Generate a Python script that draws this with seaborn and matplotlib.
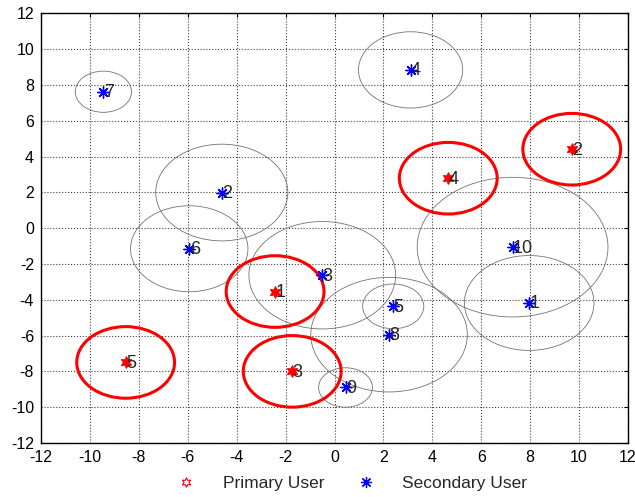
import numpy as np
import pandas as pd
import matplotlib
matplotlib.use("Agg")
import matplotlib.pyplot as plt
import seaborn as sns
from matplotlib.patches import Circle
from matplotlib.lines import Line2D

# primary users (red) - position and protection radius
pu_id = [1, 2, 3, 4, 5]
pu_x = [-2.43, 9.70, -1.73, 4.65, -8.54]
pu_y = [-3.54, 4.41, -8.00, 2.79, -7.50]
pu_r = [2.0, 2.0, 2.0, 2.0, 2.0]

# secondary users (blue) - position and transmission radius
su_id = [1, 2, 3, 4, 5, 6, 7, 8, 9, 10]
su_x = [7.96, -4.61, -0.50, 3.11, 2.40, -5.94, -9.45, 2.23, 0.45, 7.28]
su_y = [-4.18, 1.99, -2.63, 8.84, -4.37, -1.15, 7.62, -5.95, -8.90, -1.06]
su_r = [2.65, 2.70, 3.00, 2.13, 1.25, 2.40, 1.15, 3.20, 1.10, 3.90]

ticks = list(range(-12, 13, 2))

pu = pd.DataFrame({'id': pu_id, 'x': pu_x, 'y': pu_y, 'r': pu_r})
su = pd.DataFrame({'id': su_id, 'x': su_x, 'y': su_y, 'r': su_r})

sns.set_style("white")
plt.rcParams['font.family'] = ['Liberation Sans', 'DejaVu Sans']
plt.rcParams['axes.unicode_minus'] = False

fig = plt.figure(figsize=(6.35, 4.97), dpi=100)
ax = fig.add_axes([0.0646, 0.1087, 0.9244, 0.8645])

hexagram = (6, 1, 0)
asterisk = (8, 2, 0)

# coverage circles
for _, row in su.iterrows():
    ax.add_patch(Circle((row.x, row.y), row.r, fill=False, edgecolor='0.45', linewidth=0.6, zorder=2))
for _, row in pu.iterrows():
    ax.add_patch(Circle((row.x, row.y), row.r, fill=False, edgecolor='red', linewidth=2.2, zorder=3))

sns.scatterplot(data=su, x='x', y='y', marker=asterisk, color='blue', s=65, linewidth=1.0, ax=ax, zorder=4, legend=False)
sns.scatterplot(data=pu, x='x', y='y', marker=hexagram, color='red', edgecolor='red', s=65, linewidth=1.0, ax=ax, zorder=4, legend=False)

for _, row in su.iterrows():
    ax.text(row.x + 0.02, row.y - 0.05, str(int(row.id)), fontsize=13, ha='left', va='center', zorder=5)
for _, row in pu.iterrows():
    ax.text(row.x + 0.02, row.y - 0.05, str(int(row.id)), fontsize=13, ha='left', va='center', zorder=5)

ax.set_xlim(-12, 12)
ax.set_ylim(-12, 12)
ax.set_xticks(ticks)
ax.set_yticks(ticks)
ax.set_xlabel('')
ax.set_ylabel('')
ax.grid(True, linestyle=':', color='0.25', linewidth=0.8)
ax.set_axisbelow(True)
ax.tick_params(direction='in', length=3, width=0.8, top=True, right=True, labelsize=11.5, pad=5, colors='black')
for sp in ax.spines.values():
    sp.set_color('black')
    sp.set_linewidth(1.0)

handles = [
    Line2D([], [], linestyle='none', marker=hexagram, markersize=7, markerfacecolor='none',
           markeredgecolor='red', markeredgewidth=0.8, label='Primary User'),
    Line2D([], [], linestyle='none', marker=asterisk, markersize=8, color='blue',
           markeredgewidth=0.9, label='Secondary User'),
]
fig.legend(handles=handles, loc='center', bbox_to_anchor=(0.548, 0.028), ncol=2, frameon=False,
           fontsize=12.5, handlelength=2.0, handletextpad=1.1, columnspacing=1.4)

fig.savefig('out.png', dpi=100)
